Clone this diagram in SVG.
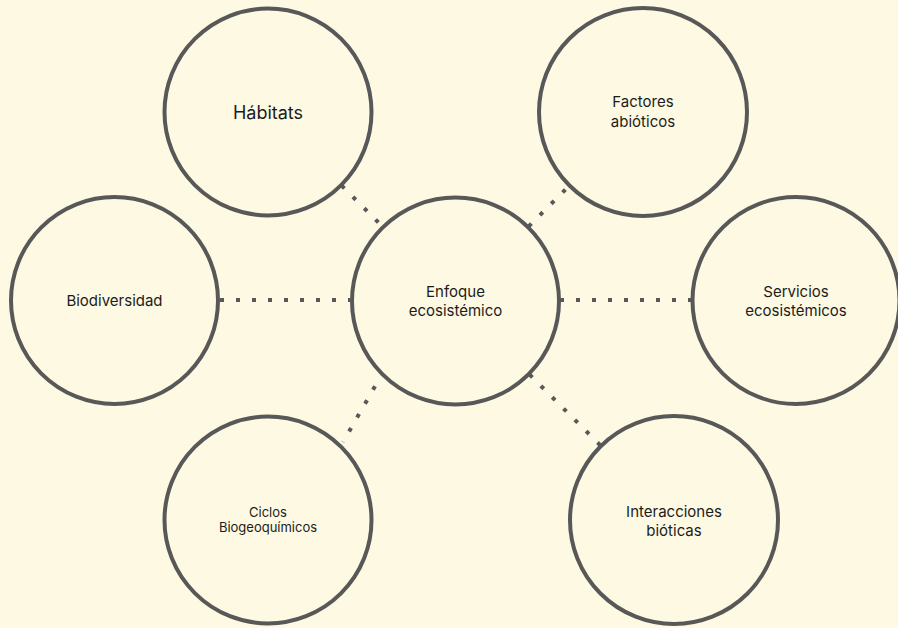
<svg xmlns="http://www.w3.org/2000/svg" width="898" height="628" viewBox="0 0 898 628">
<style>
.bg{fill:#fdf9e2}
.node circle{fill:#fdf9e2;stroke:#585858;stroke-width:4}
.node text{font-family:Inter,"DejaVu Sans",sans-serif;fill:#1c1c1c;text-anchor:middle;font-size:15px}
.conn line{stroke:#585858;stroke-width:4;stroke-dasharray:4 12;stroke-linecap:butt;fill:none}
</style>
<rect class="bg" x="0" y="0" width="898" height="628"/>
<g id="connectors" class="conn">
<line x1="220" y1="300" x2="350" y2="300"/>
<line x1="560" y1="300" x2="694" y2="300"/>
<line x1="341.6" y1="185.6" x2="381" y2="225"/>
<line x1="565.4" y1="189.6" x2="528" y2="227"/>
<line x1="529.6" y1="374.6" x2="601" y2="446"/>
<line x1="375" y1="386.3" x2="343" y2="442"/>
</g>
<g id="node-center" class="node">
<circle cx="455.5" cy="301" r="103.5"/>
<text x="455.5" y="297">Enfoque</text>
<text x="455.5" y="316">ecosistémico</text>
</g>
<g id="node-habitats" class="node">
<circle cx="268" cy="112" r="103.5"/>
<text x="268" y="119" style="font-size:18px">Hábitats</text>
</g>
<g id="node-factores" class="node">
<circle cx="643" cy="112" r="104"/>
<text x="643" y="107">Factores</text>
<text x="643" y="127">abióticos</text>
</g>
<g id="node-biodiversidad" class="node">
<circle cx="114.5" cy="300.5" r="103.5"/>
<text x="114.5" y="306">Biodiversidad</text>
</g>
<g id="node-servicios" class="node">
<circle cx="796" cy="300.5" r="103.5"/>
<text x="796" y="297">Servicios</text>
<text x="796" y="316">ecosistémicos</text>
</g>
<g id="node-ciclos" class="node">
<circle cx="268" cy="520" r="103.5"/>
<text x="268" y="517" style="font-size:13px">Ciclos</text>
<text x="268" y="532" style="font-size:13px">Biogeoquímicos</text>
</g>
<g id="node-interacciones" class="node">
<circle cx="674" cy="520" r="104"/>
<text x="674" y="516.5">Interacciones</text>
<text x="674" y="536">bióticas</text>
</g>
</svg>
